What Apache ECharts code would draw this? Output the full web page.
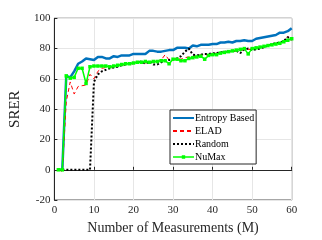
<!DOCTYPE html>
<html><head><meta charset="utf-8">
<script src="https://cdn.jsdelivr.net/npm/echarts@6/dist/echarts.min.js"></script>
<style>html,body{margin:0;padding:0;background:#fff}#c{width:322px;height:240px}</style>
</head><body><div id="c"></div>
<script>
const xs = Array.from({length:60},(_,i)=>i+1);
const entropy = [0,0,62,61,65,70,71.5,73.5,73,72.5,74.5,74.5,73.5,73.5,75,74.5,75.5,75.5,75.5,76.5,76.5,76.5,76.5,78.5,78.5,78,78,78.5,79,79,80.5,80.5,80.5,80,82,81.5,82.5,82.5,82.5,83,83,84,84,84.5,84,85,85,85.5,85,85,86.5,87,87.5,88,88.5,89,90.5,90.5,91.5,93.5];
const elad = [0,-1,45,58,50,55,55.5,56,63,60,65,67,67.5,67.5,68,68.5,69,69.5,70,70,71,71,70.5,71,71.5,72,72.5,76,72.5,73,73.5,73,74,74.5,74.5,75,76,76,75.5,76.5,77,77.5,77.5,78,78,78.5,79,79,79.5,79.5,80,81,81.5,82,82.5,83.5,84,85,88,85];
const random = [0,0,0,0,0,0,0,0,0,58,63,65,66,67,67.5,68,69,69.5,70,70.5,71,71.5,70,71.5,69.5,69.5,71,72,72.5,73,73.5,75,78,80,76,75.5,76,76.5,76.5,77,77,77.5,78,78,78.5,78.5,77,79.5,80,79,79.5,80,81,82,83,83.5,84,85,87.5,86];
const numax = [0,0,62,60.5,61,67,67,57,68,68.5,68.5,68.5,68.5,68,68.5,69,69.5,70,70,70.5,71,71,71.5,71,71.5,71.5,72,72,70,73,73,72,72,73.5,74,74.5,75,73,75.5,76,76,77,77.5,78,78.5,79,79.5,80,76.5,80,80.5,81,81.5,82,82.5,83,83.5,84.5,85.5,86.5];
const pair = a => a.map((v,i)=>[xs[i],v]);
const font = 'Liberation Serif';
const chart = echarts.init(document.getElementById('c'));
chart.setOption({
  animation:false,
  grid:{left:41.7,right:30.3,top:18.3,bottom:31.7,show:true,borderColor:'#262626',borderWidth:1},
  legend:{orient:'vertical',left:170,top:110,backgroundColor:'#fff',borderColor:'#262626',borderWidth:1,
    padding:[3,2,2,2],itemGap:3,itemWidth:21,itemHeight:10,
    textStyle:{fontFamily:font,fontSize:10,color:'#000',padding:[0,0,0,-4]},
    data:[{name:'Entropy Based',itemStyle:{opacity:0}},{name:'ELAD',itemStyle:{opacity:0}},{name:'Random',itemStyle:{opacity:0}},
      {name:'NuMax',icon:'path://M0,4.3h21v1.4h-21zM8.8,3.2h3.4v3.6h-3.4z'}]},
  xAxis:{type:'value',min:0,max:60,interval:10,
    name:'Number of Measurements (M)',nameLocation:'middle',nameGap:14,
    nameTextStyle:{fontFamily:font,fontSize:14,color:'#262626'},
    axisLine:{show:true,lineStyle:{color:'#262626'}},axisTick:{inside:true,length:3,lineStyle:{color:'#262626'}},
    axisLabel:{fontFamily:font,fontSize:11,color:'#262626',margin:5},
    splitLine:{show:true,lineStyle:{color:'#e6e6e6'}}},
  yAxis:{type:'value',min:-20,max:100,interval:20,
    name:'SRER',nameLocation:'middle',nameGap:16,nameRotate:90,
    nameTextStyle:{fontFamily:font,fontSize:15,color:'#262626'},
    axisLine:{show:true,lineStyle:{color:'#262626'}},axisTick:{inside:true,length:3,lineStyle:{color:'#262626'}},
    axisLabel:{fontFamily:font,fontSize:11,color:'#262626',margin:4},
    splitLine:{show:true,lineStyle:{color:'#e6e6e6'}}},
  series:[
    {name:'Entropy Based',type:'line',data:pair(entropy),symbol:'none',lineStyle:{color:'#0072BD',width:2.5},itemStyle:{color:'#0072BD'},z:2},
    {name:'ELAD',type:'line',data:pair(elad),symbol:'none',lineStyle:{color:'#FF0000',width:1,type:[4,3]},itemStyle:{color:'#FF0000'},z:3},
    {name:'Random',type:'line',data:pair(random),symbol:'none',lineStyle:{color:'#000',width:2,type:[2,2]},itemStyle:{color:'#000'},z:4},
    {name:'NuMax',type:'line',data:pair(numax),symbol:'rect',symbolSize:3.5,lineStyle:{color:'#00FF00',width:1.5},itemStyle:{color:'#00FF00'},z:5}
  ]
});
</script></body></html>
